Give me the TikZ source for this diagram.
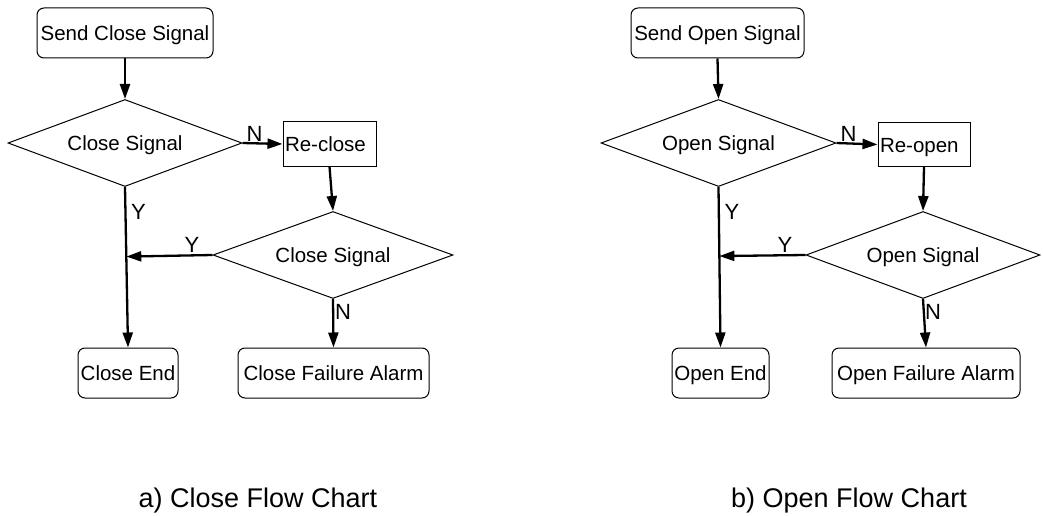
\documentclass[tikz,border=0pt]{standalone}
\usepackage{fontspec}
\setmainfont{Liberation Sans}
\usetikzlibrary{shapes.geometric,arrows.meta,calc}
\begin{document}
\begin{tikzpicture}[x=1pt,y=-1pt,
  every node/.style={inner sep=0pt},
  txt/.style={font=\fontsize{20.5}{24}\selectfont, text height=15pt, text depth=0pt},
  rbox/.style={txt, draw, line width=1pt, rounded corners=7pt, minimum height=50pt},
  sbox/.style={txt, draw, line width=1pt, minimum height=44pt, inner xsep=2pt, align=left},
  dec/.style={txt, draw, line width=1pt, diamond, shape aspect=2.7, minimum height=87pt},
  arr/.style={line width=2.3pt, -{Triangle[length=15pt,width=10pt]}},
  lbl/.style={font=\fontsize{22}{24}\selectfont},
  captxt/.style={font=\fontsize{27}{30}\selectfont, anchor=base}
]
\useasboundingbox (0,0) rectangle (1043,516);

% ---------- a) Close flow chart ----------
\node[rbox, minimum width=176pt] (s1) at (125,33) {Send Close Signal};
\node[dec, minimum width=234pt] (d1) at (125,143) {Close Signal};
\node[sbox, text width=89pt] (r1) at (329.5,144) {Re-close};
\node[dec, minimum width=240pt] (d2) at (333,255) {Close Signal};
\node[rbox, minimum width=100pt] (e1) at (128,373) {Close End};
\node[rbox, minimum width=191pt] (f1) at (333.5,373) {Close Failure Alarm};

\draw[arr] (s1.south) -- (d1.north);
\draw[arr] (d1.east) -- (r1.west);
\draw[arr] (r1.south) -- (d2.north);
\draw[arr] (d1.south) -- (e1.north);
\coordinate (j1) at ($(d1.south)!(d2.west)!(e1.north)$);
\draw[arr] (d2.west) -- (j1);
\draw[arr] (d2.south) -- (f1.north);

\node[lbl, anchor=south west] (n1) at ($(d1.east)+(4,-1)$) {N};
\node[lbl, anchor=north west] (y1) at ($(d1.south)+(6,17)$) {Y};
\node[lbl, anchor=south east] (y2) at ($(d2.west)+(-13,-2)$) {Y};
\node[lbl, anchor=north west] (n2) at ($(d2.south)+(2,5)$) {N};

\node[captxt] (c1) at (258,507) {a) Close Flow Chart};

% ---------- b) Open flow chart ----------
\node[rbox, minimum width=173pt] (s2) at (717.5,33) {Send Open Signal};
\node[dec, minimum width=235pt] (d3) at (718.5,143) {Open Signal};
\node[sbox, text width=88pt] (r2) at (924,144.5) {Re-open};
\node[dec, minimum width=234pt] (d4) at (923,255) {Open Signal};
\node[rbox, minimum width=97pt] (e2) at (720.5,373) {Open End};
\node[rbox, minimum width=188pt] (f2) at (926,373) {Open Failure Alarm};

\draw[arr] (s2.south) -- (d3.north);
\draw[arr] (d3.east) -- (r2.west);
\draw[arr] (r2.south) -- (d4.north);
\draw[arr] (d3.south) -- (e2.north);
\coordinate (j2) at ($(d3.south)!(d4.west)!(e2.north)$);
\draw[arr] (d4.west) -- (j2);
\draw[arr] (d4.south) -- (f2.north);

\node[lbl, anchor=south west] (n3) at ($(d3.east)+(4,-1)$) {N};
\node[lbl, anchor=north west] (y3) at ($(d3.south)+(6,17)$) {Y};
\node[lbl, anchor=south east] (y4) at ($(d4.west)+(-13,-2)$) {Y};
\node[lbl, anchor=north west] (n4) at ($(d4.south)+(2,5)$) {N};

\node[captxt] (c2) at (849,507) {b) Open Flow Chart};
\end{tikzpicture}
\end{document}
